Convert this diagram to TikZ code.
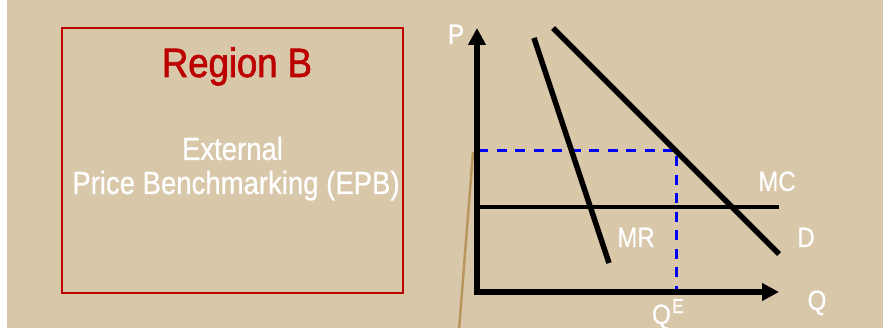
\documentclass[tikz,border=0pt]{standalone}
\usepackage{fontspec}
\setmainfont{Liberation Sans}[FakeStretch=0.86,FakeBold=0.6]
\newfontfamily\titlefont{Liberation Sans}[FakeStretch=0.89,FakeBold=1.6]
\usetikzlibrary{arrows.meta}
\definecolor{bg}{RGB}{217,199,170}
\definecolor{boxred}{RGB}{188,0,0}
\definecolor{tan}{RGB}{184,150,92}
\tikzset{
  lbl/.style={text=white, font=\fontsize{28}{30}\selectfont, anchor=base, inner sep=0pt},
  curve/.style={line width=5.5pt, black},
  guide/.style={blue, line width=3pt, dash pattern=on 10pt off 8.5pt},
}
\begin{document}
\begin{tikzpicture}[x=1pt,y=-1pt]
\useasboundingbox (0,0) rectangle (888,328);
\fill[white] (0,0) rectangle (888,328);
\fill[bg] (7,0) rectangle (883,328);
% left box
\node[draw=boxred, line width=2pt, minimum width=341pt, minimum height=265pt, inner sep=0pt] (box) at (232.5,160.5) {};
\node[text=boxred, font=\titlefont\fontsize{41}{44}\selectfont, anchor=base, inner sep=0pt] (title) at (237,77) {Region B};
\node[text=white, font=\fontsize{32}{34}\selectfont, anchor=base, inner sep=0pt] (ext) at (232.5,160) {External};
\node[text=white, font=\fontsize{32}{34}\selectfont, anchor=base, inner sep=0pt] (epb) at (236,194) {Price Benchmarking (EPB)};
% graph coordinates
\coordinate (Ptip) at (477,28);
\coordinate (O) at (477,292);
\coordinate (Qtip) at (779,292);
\coordinate (MRa) at (534,38);
\coordinate (MRb) at (609,263);
\coordinate (Da) at (553,28);
\coordinate (Db) at (779,254);
\coordinate (MCa) at (477,207);
\coordinate (MCb) at (779,207);
\coordinate (Pe) at (478,151);
\coordinate (E) at (676,151);
\coordinate (Qe) at (676,292);
\coordinate (Ta) at (473,152);
\coordinate (Tb) at (459,330);
% tan line
\draw[tan, line width=2.5pt] (Ta) -- (Tb);
% dashed guides
\draw[guide] (Pe) -- (E) -- (Qe);
% MC
\draw[line width=3.3pt] (MCa) -- (MCb);
% curves
\draw[curve] (MRa) -- (MRb);
\draw[curve] (Da) -- (Db);
% axes
\draw[line width=5.5pt, line join=miter, {Triangle[length=17pt,width=17pt]}-{Triangle[length=17pt,width=17pt]}] (Ptip) |- (Qtip);
% labels
\node[lbl] (Pl) at (456,44) {P};
\node[lbl] (Ql) at (817,310) {Q};
\node[lbl] (MCl) at (777,191) {MC};
\node[lbl] (MRl) at (636,247) {MR};
\node[lbl] (Dl) at (806,247) {D};
\node[lbl, anchor=base east] (QEl) at (671,324) {Q};
\node[text=white, font=\fontsize{20}{22}\selectfont, anchor=base west, inner sep=0pt] (QEs) at (672,313) {E};
\end{tikzpicture}
\end{document}
